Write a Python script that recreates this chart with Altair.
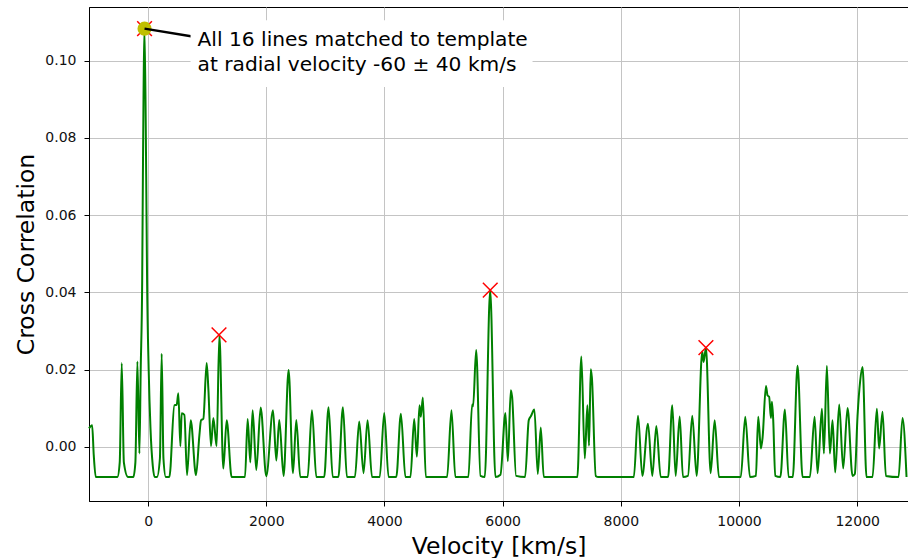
import altair as alt
import pandas as pd

# ---- data ----
velocity = [
    -1000, -947, -920, -885,
    -520, -480, -446, -410, -340,
    -250, -215, -181, -147, -125, -100, -88, -60, -32, -17, 10, 40, 80, 110,
    150, 200, 230, 260, 300,
    360, 445, 484, 512, 546, 569, 614, 659, 721, 811, 868, 896, 935, 991, 1020,
    1065, 1104, 1160, 1206, 1273, 1330, 1414,
    1640, 1685, 1730, 1769, 1831, 1905, 2000, 2114, 2170, 2220, 2293, 2378, 2452, 2508, 2575,
    2700, 2773, 2847,
    2980, 3054, 3125,
    3220, 3297, 3365,
    3500, 3573, 3646, 3714, 3790,
    3920, 3996, 4070,
    4200, 4278, 4355,
    4440, 4503, 4549, 4593, 4615, 4650, 4700,
    5060, 5134, 5200,
    5420, 5484, 5500, 5552, 5625, 5698, 5789, 5878,
    5963, 6047, 6088, 6138, 6160, 6228,
    6380, 6442, 6480, 6537, 6595, 6645, 6696,
    7265, 7332, 7390, 7434, 7462, 7491, 7510, 7576, 7620,
    8220, 8291, 8364, 8460, 8533, 8601, 8675,
    8800, 8871, 8928, 8996, 9052, 9136, 9209, 9283, 9378, 9400, 9441, 9520, 9588, 9661,
    10030, 10106, 10185, 10286, 10325, 10371, 10399, 10456, 10484, 10510, 10540, 10557,
    10579, 10613,
    10700, 10777, 10839, 10910, 10991, 11076,
    11200, 11279, 11330, 11403, 11437, 11487, 11538, 11583, 11628, 11696, 11763, 11837,
    11921, 11960, 12006, 12050, 12091, 12158,
    12260, 12333, 12371, 12429, 12486,
    12700, 12767, 12835,
]
correlation = [
    0.0048, 0.0056, -0.0020, -0.0078,
    -0.0078, -0.0040, 0.0217, -0.0040, -0.0078,
    -0.0078, -0.0040, 0.0221, -0.0017, 0.0200, 0.0430, 0.0700, 0.1083, 0.0700, 0.0430, 0.0200, 0.0050, -0.0050, -0.0078,
    -0.0078, -0.0030, 0.0241, -0.0030, -0.0078,
    -0.0078, 0.0108, 0.0109, 0.0139, 0.0002, 0.0087, 0.0083, -0.0073, 0.0069, -0.0073, 0.0030, 0.0069, 0.0073, 0.0217, 0.0150,
    0.0002, 0.0075, 0.0002, 0.0290, -0.0056, 0.0069, -0.0078,
    -0.0078, 0.0072, -0.0040, 0.0095, -0.0060, 0.0102, -0.0076, 0.0095, -0.0035, 0.0070, -0.0075, 0.0199, -0.0068, 0.0070, -0.0078,
    -0.0078, 0.0095, -0.0078,
    -0.0078, 0.0103, -0.0078,
    -0.0078, 0.0103, -0.0078,
    -0.0078, 0.0066, -0.0068, 0.0069, -0.0078,
    -0.0078, 0.0088, -0.0078,
    -0.0078, 0.0086, -0.0078,
    -0.0078, 0.0072, -0.0025, 0.0108, 0.0078, 0.0128, -0.0078,
    -0.0078, 0.0095, -0.0078,
    -0.0078, 0.0110, 0.0105, 0.0251, -0.0075, -0.0078, 0.0406, -0.0078,
    -0.0072, 0.0088, -0.0037, 0.0147, 0.0130, -0.0075,
    -0.0078, 0.0069, 0.0080, 0.0097, -0.0070, 0.0050, -0.0078,
    -0.0078, 0.0234, -0.0030, 0.0108, 0.0003, 0.0201, 0.0180, -0.0075, -0.0078,
    -0.0078, 0.0081, -0.0075, 0.0060, -0.0075, 0.0054, -0.0078,
    -0.0078, 0.0108, -0.0075, 0.0079, -0.0078, -0.0075, 0.0081, -0.0075, 0.0247, 0.0220, 0.0257, -0.0068, 0.0069, -0.0078,
    -0.0078, 0.0078, -0.0078, -0.0075, 0.0078, -0.0004, 0.0024, 0.0158, 0.0133, 0.0130, 0.0075, 0.0117,
    0.0070, -0.0075,
    -0.0078, 0.0097, -0.0078, -0.0078, 0.0210, -0.0078,
    -0.0078, 0.0078, -0.0068, 0.0099, -0.0017, 0.0210, -0.0017, 0.0069, -0.0066, 0.0110, -0.0056, 0.0101,
    -0.0075, -0.0070, 0.0080, 0.0170, 0.0207, -0.0078,
    -0.0078, 0.0099, -0.0004, 0.0091, -0.0075,
    -0.0078, 0.0075, -0.0078,
]

peak_velocity = [-60, 1200, 5790, 9440]
peak_correlation = [0.1083, 0.0290, 0.0406, 0.0257]

best_velocity = [-60]
best_correlation = [0.1083]
annotation_lines = ["All 16 lines matched to template",
                    "at radial velocity -60 \u00b1 40 km/s"]

x_ticks = [0, 2000, 4000, 6000, 8000, 10000, 12000]
y_ticks = [0.00, 0.02, 0.04, 0.06, 0.08, 0.10]

# ---- tables ----
curve = pd.DataFrame({"v": velocity, "c": correlation})
peaks = pd.DataFrame({"v": peak_velocity, "c": peak_correlation})
best = pd.DataFrame({"v": best_velocity, "c": best_correlation,
                     "label": [annotation_lines]})

FONT = "DejaVu Sans"

xscale = alt.Scale(domain=[-1000, 12860], nice=False, zero=False)
yscale = alt.Scale(domain=[-0.0140, 0.1139], nice=False, zero=False)

xaxis = alt.Axis(values=x_ticks, title="Velocity [km/s]", grid=True,
                 format="d", labelFlush=False, labelOverlap=False,
                 titleY=52, titleBaseline="alphabetic")
yaxis = alt.Axis(values=y_ticks, title="Cross Correlation", grid=True,
                 format=".2f", labelFlush=False, labelOverlap=False,
                 titleX=-56, titleBaseline="alphabetic", titleAngle=-90)

line = alt.Chart(curve).mark_line(
    color="#008000", strokeWidth=2, interpolate="monotone"
).encode(
    x=alt.X("v:Q", scale=xscale, axis=xaxis),
    y=alt.Y("c:Q", scale=yscale, axis=yaxis),
    order="v:Q",
)

crosses = alt.Chart(peaks).mark_point(
    shape="M-1,-1L1,1M-1,1L1,-1", size=216, filled=False,
    color="#ff0000", strokeWidth=1.5, opacity=1
).encode(x=alt.X("v:Q", scale=xscale), y=alt.Y("c:Q", scale=yscale))

dot = alt.Chart(best).mark_point(
    shape="circle", size=200, filled=True, color="#bfbf00", opacity=1
).encode(x=alt.X("v:Q", scale=xscale), y=alt.Y("c:Q", scale=yscale))

arrow = alt.Chart(best).mark_rule(
    color="black", strokeWidth=2.5, x2Offset=51, y2Offset=8.3
).encode(
    x=alt.X("v:Q", scale=xscale), y=alt.Y("c:Q", scale=yscale),
    x2="v:Q", y2="c:Q",
)

box = alt.Chart(best).mark_rect(
    color="white", opacity=1,
    xOffset=46, x2Offset=388, yOffset=-8.3, y2Offset=58.3
).encode(
    x=alt.X("v:Q", scale=xscale), y=alt.Y("c:Q", scale=yscale),
    x2="v:Q", y2="c:Q",
)

text = alt.Chart(best).mark_text(
    align="left", baseline="alphabetic", dx=53, dy=17.7,
    font=FONT, fontSize=20.2, lineHeight=24.3, color="black"
).encode(
    x=alt.X("v:Q", scale=xscale), y=alt.Y("c:Q", scale=yscale),
    text="label",
)

chart = alt.layer(line, crosses, dot, arrow, box, text).properties(
    width=819, height=494,
    background="white",
    autosize=alt.AutoSizeParams(type="none"),
    padding={"left": 89, "top": 7, "right": 0, "bottom": 57},
).configure_view(
    stroke="black", strokeWidth=1
).configure_axis(
    labelFont=FONT, titleFont=FONT, labelFontSize=14, titleFontSize=23.5,
    titleFontWeight="normal", labelColor="#111", titleColor="#000",
    domainColor="black", domainWidth=1, tickColor="black", tickSize=5,
    tickWidth=1, labelPadding=8, gridColor="#c4c4c4", gridWidth=1,
    gridOpacity=1,
)

chart.save("out.html", embed_options={"renderer": "svg", "actions": False})
